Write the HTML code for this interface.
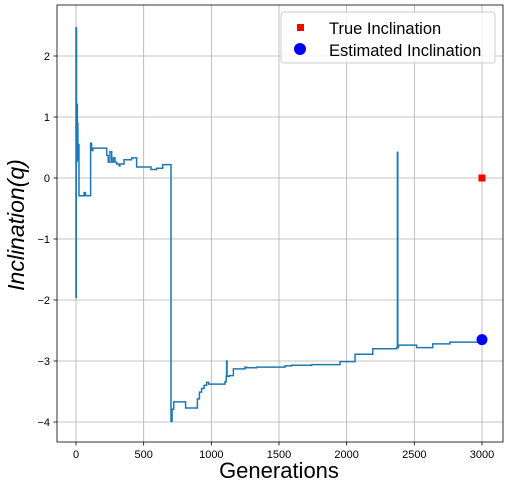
<!DOCTYPE html>
<html><head><meta charset="utf-8"><style>
body{margin:0;background:#fff;font-family:"Liberation Sans",sans-serif}
</style></head><body>
<svg id="c" width="509" height="489" font-family="Liberation Sans, sans-serif">
<rect x="0" y="0" width="509" height="489" fill="#fff"/>
<g id="grid"></g>
<rect x="57" y="5" width="446" height="437" fill="none" stroke="#000" stroke-width="0.8"/>
<g id="ticks"></g>
<path id="line" fill="none" stroke="#1f77b4" stroke-width="1.5"/>
<g id="marks"></g>
<text x="279" y="478" font-size="22" text-anchor="middle">Generations</text>
<text transform="translate(24,225) rotate(-90)" font-size="23" font-style="italic" text-anchor="middle">Inclination(q)</text>
<g>
<rect x="281" y="12" width="214" height="51" rx="3" fill="#fff" fill-opacity="0.8" stroke="#ccc"/>
<rect x="297" y="24" width="7" height="7" fill="#f00"/>
<text x="329" y="34" font-size="16.5">True Inclination</text>
<circle cx="300" cy="49" r="6" fill="#00f"/>
<text x="329" y="56" font-size="16.5">Estimated Inclination</text>
</g>
</svg>
<script>
const xTicks=[0,500,1000,1500,2000,2500,3000];
const yTicks=[2,1,0,-1,-2,-3,-4];
const gens=[0,0,2,4,6,8,10,12,14,16,22,60,70,80,108,115,125,227,238,251,264,276,288,300,318,325,355,411,448,554,596,641,702,702,710,722,810,897,912,928,946,965,980,1101,1110,1113,1116,1133,1163,1249,1261,1335,1544,1593,1741,1951,2062,2193,2370,2375,2378,2383,2517,2636,2763,3000];
const vals=[2.48,-1.96,2.45,1.22,0.27,1.2,0.6,0.9,0.3,0.55,-0.29,-0.24,-0.29,-0.29,0.57,0.45,0.49,0.37,0.26,0.43,0.26,0.33,0.26,0.23,0.2,0.23,0.3,0.33,0.18,0.14,0.16,0.22,0.22,-3.99,-3.79,-3.67,-3.77,-3.62,-3.51,-3.45,-3.40,-3.35,-3.38,-3.34,-3.25,-3.0,-3.25,-3.24,-3.13,-3.10,-3.11,-3.10,-3.08,-3.07,-3.06,-3.01,-2.89,-2.80,-2.78,0.42,-2.78,-2.74,-2.78,-2.72,-2.69,-2.65];
const trueGen=[3000], trueVal=[0];
const estGen=[3000], estVal=[-2.65];
const X=g=>76+g*0.13533, Y=v=>178-v*61;
const ns="http://www.w3.org/2000/svg";
function mk(t,a,p){const e=document.createElementNS(ns,t);for(const k in a)e.setAttribute(k,a[k]);p.appendChild(e);return e;}
const grid=document.getElementById('grid'),ticks=document.getElementById('ticks'),marks=document.getElementById('marks');
xTicks.forEach(t=>{const x=X(t);
const l=mk('line',{x1:x,x2:x,y1:5,y2:442,stroke:'#b0b0b0','stroke-width':0.8},grid);


mk('line',{x1:x,x2:x,y1:442,y2:445.5,stroke:'#000','stroke-width':0.8},ticks);
const tx=mk('text',{x:x,y:458,'font-size':11,'text-anchor':'middle'},ticks);tx.textContent=t;

});
yTicks.forEach(t=>{const y=Y(t);
const l=mk('line',{x1:57,x2:503,y1:y,y2:y,stroke:'#b0b0b0','stroke-width':0.8},grid);


mk('line',{x1:53.5,x2:57,y1:y,y2:y,stroke:'#000','stroke-width':0.8},ticks);
const tx=mk('text',{x:50,y:y+4,'font-size':11,'text-anchor':'end'},ticks);tx.textContent=(t<0?'\u2212'+(-t):t);

});
let d='M'+X(gens[0])+','+Y(vals[0]);
for(let i=1;i<gens.length;i++){d+=' H'+X(gens[i])+' V'+Y(vals[i]);}
document.getElementById('line').setAttribute('d',d);
trueGen.forEach((g,i)=>{const r=mk('rect',{x:X(g)-3.5,y:Y(trueVal[i])-3.5,width:7,height:7,fill:'#f00'},marks);

});
estGen.forEach((g,i)=>{const c=mk('circle',{cx:X(g),cy:Y(estVal[i]),r:5.5,fill:'#00f'},marks);

});
</script>
</body></html>
